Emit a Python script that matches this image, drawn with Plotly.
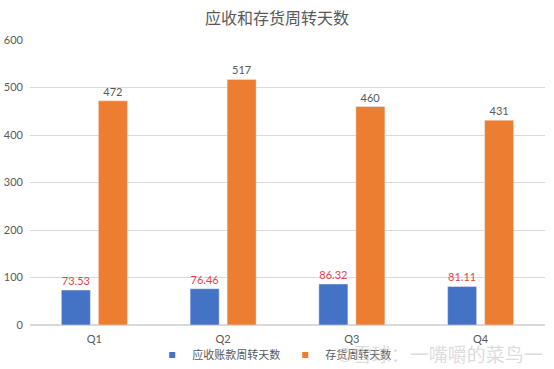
import plotly.graph_objects as go

categories = ["Q1", "Q2", "Q3", "Q4"]
receivable_days = [73.53, 76.46, 86.32, 81.11]
inventory_days = [472, 517, 460, 431]
y_ticks = [0, 100, 200, 300, 400, 500, 600]

FONT = "Lato, Noto Sans CJK SC, sans-serif"
BLUE = "#4472C4"
ORANGE = "#ED7D31"

fig = go.Figure()
fig.add_trace(go.Bar(
    x=categories, y=receivable_days, name="应收账款周转天数",
    marker_color=BLUE, showlegend=False,
    text=[f"{v:.2f}" for v in receivable_days], textposition="outside",
    textfont=dict(color="#E8424A", size=11, family=FONT),
    cliponaxis=False,
))
fig.add_trace(go.Bar(
    x=categories, y=inventory_days, name="存货周转天数",
    marker_color=ORANGE, showlegend=False,
    text=[str(v) for v in inventory_days], textposition="outside",
    textfont=dict(color="#595959", size=11, family=FONT),
    cliponaxis=False,
))
# legend entries with small square markers
for name, col in [("应收账款周转天数", BLUE), ("存货周转天数", ORANGE)]:
    fig.add_trace(go.Scatter(x=[None], y=[None], mode="markers", name=name,
                             marker=dict(symbol="square", size=6, color=col)))

fig.update_layout(
    width=554, height=369,
    margin=dict(l=30, r=9, t=40, b=44, autoexpand=False),
    paper_bgcolor="white", plot_bgcolor="white",
    font=dict(family=FONT, color="#666666", size=11),
    title=dict(text="应收和存货周转天数", x=0.5, xanchor="center", y=0.951, yanchor="middle",
               font=dict(size=16, color="#595959", family=FONT)),
    barmode="group", bargap=0.425, bargroupgap=0.216,
    showlegend=True,
    legend=dict(orientation="h", x=0.495, xanchor="center", xref="container",
                y=0.038, yanchor="middle", yref="container",
                font=dict(size=11, color="#595959", family=FONT),
                itemwidth=30, tracegroupgap=0, bgcolor="rgba(0,0,0,0)"),
    xaxis=dict(showgrid=False, showline=False, ticks="", automargin=False,
               ticklabelstandoff=6, tickfont=dict(size=11, color="#595959")),
    yaxis=dict(range=[0, 600], tickvals=y_ticks, showgrid=True, gridcolor="#D9D9D9",
               gridwidth=1, zeroline=True, zerolinecolor="#D9D9D9", showline=False,
               ticks="", automargin=False, ticklabelstandoff=6,
               tickfont=dict(size=11, color="#595959")),
)

fig.add_annotation(
    text="©雪球：一嘴嚼的菜鸟一", xref="paper", yref="paper", x=1.0, y=-0.105,
    xanchor="right", yanchor="middle", showarrow=False,
    font=dict(size=19, color="rgba(190,190,190,0.55)", family=FONT),
)

fig.write_html("out.html", config={"displayModeBar": False},
               post_script="document.body.style.margin='0';document.body.style.overflow='hidden';")
